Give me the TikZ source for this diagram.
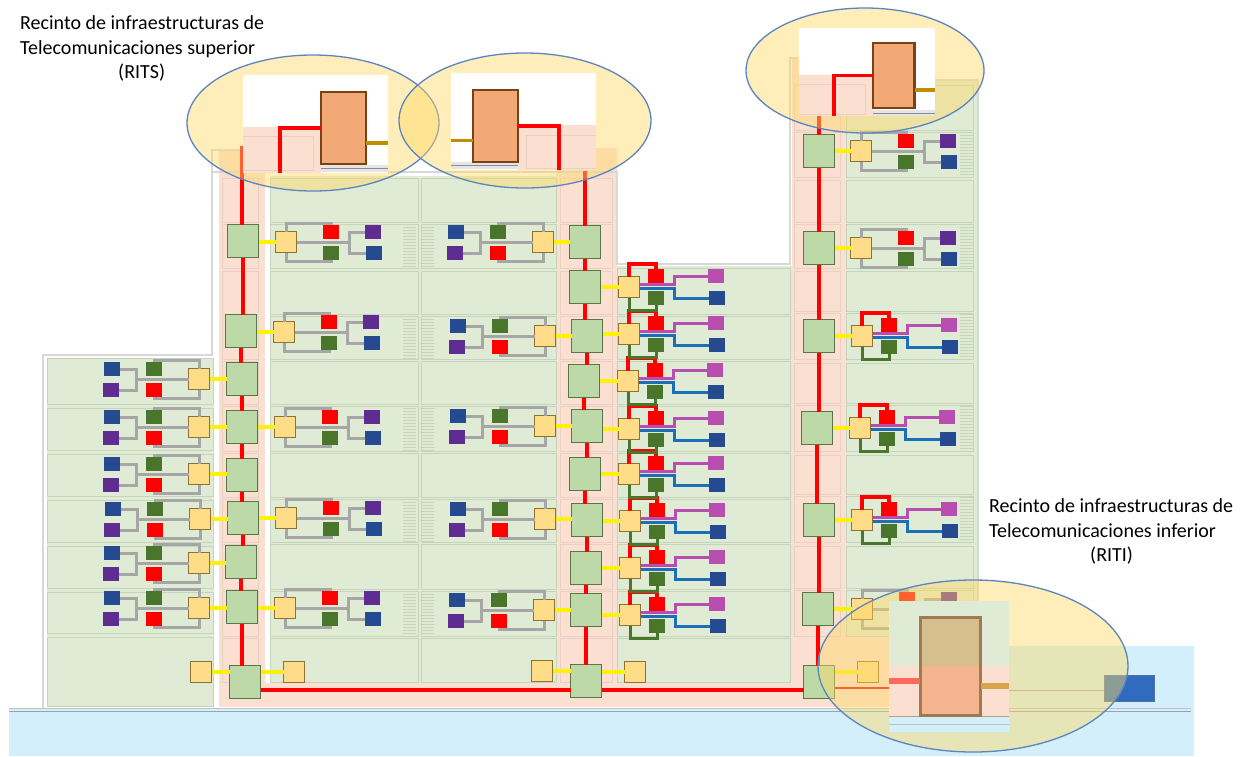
\documentclass[tikz,border=0pt]{standalone}
\usepackage{fontspec}
\setmainfont{Carlito}
\definecolor{salmonbg}{HTML}{FBE0D1}
\definecolor{greenbg}{HTML}{DFEBD4}
\definecolor{waterbg}{HTML}{D3EFFC}
\definecolor{cellgreen}{HTML}{C6D4BB}
\definecolor{cellsalmon}{HTML}{E8D0C2}
\definecolor{outergrey}{HTML}{D8D8D8}
\definecolor{risergreen}{HTML}{BCD9A7}
\definecolor{riserline}{HTML}{5A7547}
\definecolor{boxyellow}{HTML}{FFDC87}
\definecolor{boxline}{HTML}{8F7232}
\definecolor{sqgreen}{HTML}{4A762B}
\definecolor{sqblue}{HTML}{254A8F}
\definecolor{sqpurple}{HTML}{5F2C92}
\definecolor{sqmagenta}{HTML}{B84FB0}
\definecolor{lineblue}{HTML}{1A6FB8}
\definecolor{linegrey}{HTML}{A6A6A6}
\definecolor{rackfill}{HTML}{F3A976}
\definecolor{rackline}{HTML}{7A4016}
\definecolor{goldline}{HTML}{BF8F00}
\definecolor{ellfill}{HTML}{FFD966}
\definecolor{ellline}{HTML}{5B84C0}
\definecolor{entryblue}{HTML}{2F6CBF}
\definecolor{ritiupper}{HTML}{D6BF8C}
\definecolor{ritilower}{HTML}{F3B48E}
\definecolor{ritiline}{HTML}{A07A52}
\definecolor{ritired}{HTML}{FB6A5A}
\definecolor{ritigold}{HTML}{D9A54A}

\newcommand{\greyunit}[8]{%
  \begin{scope}[shift={(#2,#3)},xscale=#4]
    \node[yellowbox] (#1-y) at (0,0) {};
    \node[sqbox,fill=#5] (#1-a) at (45,-10) {};
    \node[sqbox,fill=#6] (#1-b) at (45,11) {};
    \node[sqbox,fill=#7] (#1-c) at (87,-10) {};
    \node[sqbox,fill=#8] (#1-d) at (88,11) {};
    \coordinate (#1-j) at (63,0);
    \coordinate (#1-ut) at (0,-19);
    \coordinate (#1-at) at (45,-19);
    \coordinate (#1-ub) at (0,19);
    \coordinate (#1-bb) at (45,19);
    \draw[greyline] (#1-y) -- (#1-j);
    \draw[greyline] (#1-c) -| (#1-j) |- (#1-d);
    \draw[greyline] (#1-y) -- (#1-ut) -- (#1-at) -- (#1-a);
    \draw[greyline] (#1-y) -- (#1-ub) -- (#1-bb) -- (#1-b);
  \end{scope}
}
\newcommand{\colorunit}[3]{%
  \begin{scope}[shift={(#2,#3)}]
    \node[yellowbox] (#1-y) at (0,0) {};
    \node[sqbox,fill=red] (#1-a) at (27,-11) {};
    \node[sqbox,fill=sqgreen] (#1-b) at (27,11) {};
    \node[sqbox,fill=sqmagenta] (#1-c) at (87,-11) {};
    \node[sqbox,fill=sqblue] (#1-d) at (88,11) {};
    \coordinate (#1-p) at (45,-2.5);
    \coordinate (#1-q) at (45,1.5);
    \coordinate (#1-ut) at (0,-23);
    \coordinate (#1-at) at (27,-23);
    \coordinate (#1-ub) at (0,23);
    \coordinate (#1-bb) at (27,23);
    \draw[greenline] (#1-y) -- (#1-ub) -- (#1-bb) -- (#1-b);
    \draw[redline] (#1-y) -- (#1-ut) -- (#1-at) -- (#1-a);
    \draw[magline] ([yshift=2.5pt]#1-y.east) -- (#1-p) |- (#1-c);
    \draw[blueline] ([yshift=-1.5pt]#1-y.east) -- (#1-q) |- (#1-d);
  \end{scope}
}
\newcommand{\hatchbar}[2]{%
  \foreach \i in {0,3,...,42}
    \draw[hatchline] (#1,{#2+\i}) -- ({#1+13},{#2+\i});
}

\begin{document}
\begin{tikzpicture}[x=1pt, y=-1pt]
    \tikzset{
        yellowbox/.style={draw=boxline, fill=boxyellow, line width=1.6pt, minimum size=21pt, inner sep=0pt, outer sep=0pt},
        sqbox/.style={minimum width=16pt, minimum height=14pt, inner sep=0pt, outer sep=0pt},
        riserbox/.style={draw=riserline, fill=risergreen, line width=1.7pt, minimum width=31pt, minimum height=33pt, inner sep=0pt, outer sep=0pt},
        rackbox/.style={draw=rackline, fill=rackfill, line width=2.4pt, inner sep=0pt, outer sep=0pt},
        greyline/.style={draw=linegrey, line width=3pt},
        redline/.style={draw=red, line width=3.2pt},
        feedline/.style={draw=red, line width=3.6pt},
        greenline/.style={draw=sqgreen, line width=3pt},
        magline/.style={draw=sqmagenta, line width=3pt},
        blueline/.style={draw=lineblue, line width=3pt},
        yellowline/.style={draw=yellow, line width=3.4pt},
        goldstub/.style={draw=goldline, line width=3.4pt},
        hatchline/.style={draw=cellgreen, line width=0.5pt},
        cellgrn/.style={draw=cellgreen, line width=0.9pt},
        cellsal/.style={draw=cellsalmon, line width=0.9pt},
        outerline/.style={draw=outergrey, line width=1.6pt},
        bubble/.style={draw=ellline, fill=ellfill, fill opacity=0.45, line width=1.3pt},
        labeltext/.style={font=\fontsize{20}{24.5}\selectfont, align=left, inner sep=0pt, anchor=north west}
    }
    \useasboundingbox (0,0) rectangle (1243,756);

    % ground and building
    \fill[waterbg] (9,709) rectangle (1194,756);
    \fill[waterbg] (1000,646) rectangle (1194,709);
    \fill[greenbg] (47,358) rectangle (214,706);
    \fill[greenbg] (270,176) rectangle (556,683);
    \fill[greenbg] (617,266) rectangle (795,683);
    \fill[greenbg] (846,80) rectangle (977,637);
    \fill[salmonbg] (219,150) rectangle (265,707);
    \fill[salmonbg] (556,148) rectangle (617,707);
    \fill[salmonbg] (792,58) rectangle (846,707);
    \fill[salmonbg] (265,683) rectangle (1009,707);
    \fill[salmonbg] (846,637) rectangle (1009,707);
    \draw[draw=white, line width=2pt] (267,176) -- (267,682);
    \draw[outerline] (212,340) -- (212,355) -- (43,355) -- (43,708);
    \draw[outerline] (212,340) -- (212,150) -- (262,150);
    \draw[outerline] (212,172) -- (617,172) -- (617,264) -- (790,264) -- (790,58) -- (846,58);
    \draw[outerline] (846,80) -- (978,80) -- (978,640);
    \draw[draw=linegrey!70, line width=0.7pt] (9,708) -- (1191,708);
    \draw[draw=waterbg!70!black, line width=0.7pt] (9,711) -- (1191,711);

    \foreach \t/\b in {358/404,408/450,454/496,500/542,546/588,592/633,637/706}
        \draw[cellgrn] (47,\t) rectangle (213,\b);
    \foreach \t/\b in {178/222,224/268,271/314,316/359,361/404,406/451,453/497,499/542,544/589,591/636,638/682}{
        \draw[cellgrn] (270,\t) rectangle (418,\b);
        \draw[cellgrn] (421,\t) rectangle (556,\b);
        \draw[cellsal] (222,\t) rectangle (258,\b);
        \draw[cellsal] (560,\t) rectangle (612,\b);
    }
    \foreach \t/\b in {268/314,316/359,361/404,406/451,453/497,499/542,544/589,591/636,638/682}
        \draw[cellgrn] (617,\t) rectangle (790,\b);
    \foreach \t/\b in {85/130,132/177,180/222,224/268,271/311,313/359,363/403,405/451,455/494,496/542,546/588,590/636}{
        \draw[cellsal] (794,\t) rectangle (840,\b);
        \draw[cellgrn] (846,\t) rectangle (973,\b);
    }
    \foreach \t in {224,316,408,499,591}{
        \hatchbar{403}{\t}
        \hatchbar{421}{\t}
    }
    \foreach \t in {132,224,314,406,497}{
        \hatchbar{960}{\t}
    }

    % risers
    \foreach \n/\x/\y in {rL1/243/241,rL2/241/331,rL3/242/379,rL4/242/427,rL5/242/475,rL6/243/518,rL7/241/562,rL8/242/607,rL9/245/682,
        rC1/585/242,rC2/585/287,rC3/587/336,rC4/584/381,rC5/587/426,rC6/585/474,rC7/587/520,rC8/586/568,rC9/586/610,rC10/586/681,
        rR1/819/151,rR2/819/248,rR3/819/336,rR4/817/428,rR5/819/520,rR6/818/609,rR7/819/682}
        \node[riserbox] (\n) at (\x,\y) {};
    \coordinate (rLtop) at (242,146);
    \coordinate (rCtop) at (585,171);
    \coordinate (rRtop) at (819,116);
    \draw[redline] (rLtop) -- (rL1.north -| rLtop);
    \draw[redline] (rCtop) -- (rC1.north -| rCtop);
    \draw[redline] (rRtop) -- (rR1.north -| rRtop);
    \foreach \a/\b in {rL1/rL2,rL2/rL3,rL3/rL4,rL4/rL5,rL5/rL6,rL6/rL7,rL7/rL8,rL8/rL9,
        rC1/rC2,rC2/rC3,rC3/rC4,rC4/rC5,rC5/rC6,rC6/rC7,rC7/rC8,rC8/rC9,rC9/rC10,
        rR1/rR2,rR2/rR3,rR3/rR4,rR4/rR5,rR5/rR6,rR6/rR7}
        \draw[redline] (\a.south) -- (\a.south |- \b.north);
    \draw[redline] ([yshift=-8pt]rL9.east) -- ([yshift=-9pt]rC10.west);
    \draw[redline] ([yshift=-9pt]rC10.east) -- ([yshift=-8pt]rR7.west);
    \coordinate (busend) at (889,688);
    \draw[draw=red, line width=2pt] ([yshift=-6pt]rR7.east) -- (busend);

    % floor units
    \foreach \n/\ux/\uy/\r in {uA1/286/242/rL1,uA2/284/332/rL2,uA3/285/427/rL4,uA4/286/518/rL6,uA5/285/608/rL8,
        uE1/861/151/rR1,uE2/861/248/rR2,uE3/862/609/rR6}{
        \greyunit{\n}{\ux}{\uy}{1}{red}{sqgreen}{sqpurple}{sqblue}
        \draw[yellowline] (\n-y) -- (\n-y -| \r.east);
    }
    \foreach \n/\ux/\uy/\r in {uB1/199/379/rL3,uB2/199/427/rL4,uB3/199/474/rL5,uB4/200/519/rL6,uB5/199/563/rL7,uB6/199/608/rL8,
        uC1/543/242/rC1,uC2/545/336/rC3,uC3/545/426/rC5,uC4/545/519/rC7,uC5/544/610/rC9}{
        \greyunit{\n}{\ux}{\uy}{-1}{sqgreen}{red}{sqblue}{sqpurple}
        \draw[yellowline] (\n-y) -- (\n-y -| \r.west);
    }
    \foreach \n/\ux/\uy/\r in {uD8/630/615/rC9,uD7/630/568/rC8,uD6/630/521/rC7,uD5/629/474/rC6,uD4/629/429/rC5,uD3/628/381/rC4,uD2/629/334/rC3,uD1/629/287/rC2,
        uF1/862/336/rR3,uF2/860/428/rR4,uF3/862/520/rR5}{
        \colorunit{\n}{\ux}{\uy}
        \draw[yellowline] (\n-y) -- (\n-y -| \r.east);
    }
    \node[yellowbox] (yL) at (201,672) {};
    \node[yellowbox] (yM) at (294,672) {};
    \node[yellowbox] (yN) at (542,671) {};
    \node[yellowbox] (yO) at (635,672) {};
    \node[yellowbox] (yQ) at (868,672) {};
    \draw[yellowline] (yL) -- (yL -| rL9.west);
    \draw[yellowline] (yM) -- (yM -| rL9.east);
    \draw[yellowline] (yN) -- (yN -| rC10.west);
    \draw[yellowline] (yO) -- (yO -| rC10.east);
    \draw[yellowline] (yQ) -- (yQ -| rR7.east);

    % service entry
    \node[draw=sqblue!80, fill=entryblue, minimum width=50pt, minimum height=26.5pt, inner sep=0pt] (entry) at (1129,688.3) {};
    \coordinate (pipeend) at (1009,690.5);
    \draw[draw=linegrey, line width=1.6pt] (pipeend) -- (entry.west |- pipeend);

    % bubbles
    \draw[bubble] (313,123) ellipse (126 and 68);
    \draw[bubble] (525,120.5) ellipse (126 and 67.5);
    \draw[bubble] (865,70.5) ellipse (119 and 62.5);
    \draw[bubble] (973,666) ellipse (155 and 86);

    % RITS left
    \fill[white] (243.3,75) rectangle (388,172.7);
    \fill[salmonbg] (243.3,127) rectangle (321,172.7);
    \draw[cellsal] (243.3,136) -- (313,136) -- (313,170) -- (243.3,170);
    \fill[black!10] (321,165) rectangle (388,172);
    \draw[draw=black!45, line width=0.8pt] (321,168.5) -- (388,168.5);
    \node[rackbox, minimum width=45pt, minimum height=72pt] (rackA) at (343.5,128) {};
    \coordinate (feedA) at (280,172.7);
    \coordinate (goldA) at (388,143);
    \draw[feedline] (rackA) -| (feedA);
    \draw[goldstub] (rackA.east |- goldA) -- (goldA);

    % RITS right
    \fill[white] (451,73) rectangle (595.7,170);
    \fill[salmonbg] (518,125) rectangle (595.7,170);
    \draw[cellsal] (595.7,135) -- (526,135) -- (526,168) -- (595.7,168);
    \fill[black!10] (451,162) rectangle (518,169);
    \draw[draw=black!45, line width=0.8pt] (451,165.5) -- (518,165.5);
    \node[rackbox, minimum width=45pt, minimum height=72pt] (rackB) at (495.5,126) {};
    \coordinate (feedB) at (559,170);
    \coordinate (goldB) at (451,140.7);
    \draw[feedline] (rackB) -| (feedB);
    \draw[goldstub] (rackB.west |- goldB) -- (goldB);

    % RITS tower
    \fill[white] (799,28) rectangle (935,116);
    \fill[salmonbg] (799,75) rectangle (873,116);
    \draw[cellsal] (799,84) -- (865,84) -- (865,114) -- (799,114);
    \fill[black!10] (873,110) rectangle (935,116);
    \draw[draw=black!45, line width=0.8pt] (873,113) -- (935,113);
    \node[rackbox, minimum width=41.5pt, minimum height=65pt] (rackC) at (893.8,75.5) {};
    \coordinate (feedC) at (833.7,116);
    \coordinate (goldC) at (935,90);
    \draw[feedline] (rackC) -| (feedC);
    \draw[goldstub] (rackC.east |- goldC) -- (goldC);

    % RITI
    \fill[greenbg] (889,600.7) rectangle (1009,666);
    \fill[salmonbg] (889,666) rectangle (1009,716);
    \fill[waterbg] (889,716) rectangle (1009,731.7);
    \draw[draw=rackline!50!white, line width=0.8pt] (889,716) -- (1009,716);
    \draw[draw=black!25, line width=1pt] (889,724) -- (1009,724);
    \fill[ritiupper] (920.7,617) rectangle (980,666);
    \fill[ritilower] (920.7,666) rectangle (980,715);
    \draw[draw=ritiline, line width=3pt] (920.7,617) rectangle (980,715);
    \coordinate (stubD) at (889,681);
    \coordinate (goldD) at (1009,686);
    \draw[draw=ritired, line width=6pt] (stubD) -- (920,681);
    \draw[draw=ritigold, line width=5.5pt] (981,686) -- (goldD);

    \node[labeltext] (titleRITS) at (20,15.5) {Recinto de infraestructuras de\\Telecomunicaciones superior\\\hspace*{98pt}(RITS)};
    \node[labeltext] (titleRITI) at (989,498.5) {Recinto de infraestructuras de\\Telecomunicaciones inferior\\\hspace*{101pt}(RITI)};
\end{tikzpicture}
\end{document}
